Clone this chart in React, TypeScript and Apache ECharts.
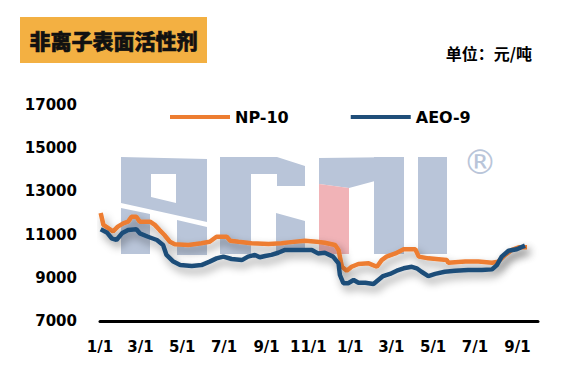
import React, { useEffect, useRef } from "react";
import * as echarts from "echarts";

const tickDates = ["2023-01-01", "2023-03-01", "2023-05-01", "2023-07-01", "2023-09-01", "2023-11-01", "2024-01-01", "2024-03-01", "2024-05-01", "2024-07-01", "2024-09-01"];
const tickLabels = ["1/1", "3/1", "5/1", "7/1", "9/1", "11/1", "1/1", "3/1", "5/1", "7/1", "9/1"];

const seriesNames = ["NP-10", "AEO-9"];

const npDates = ["2023-01-02", "2023-01-06", "2023-01-13", "2023-01-20", "2023-01-27", "2023-02-04", "2023-02-11", "2023-02-16", "2023-02-23", "2023-02-28", "2023-03-15", "2023-03-22", "2023-03-29", "2023-04-05", "2023-04-13", "2023-04-20", "2023-05-10", "2023-05-29", "2023-06-10", "2023-06-20", "2023-07-05", "2023-07-10", "2023-07-22", "2023-08-10", "2023-09-04", "2023-09-23", "2023-10-03", "2023-10-27", "2023-11-13", "2023-11-25", "2023-12-10", "2023-12-15", "2023-12-20", "2023-12-27", "2024-01-03", "2024-01-13", "2024-01-28", "2024-02-09", "2024-02-16", "2024-02-23", "2024-03-07", "2024-03-19", "2024-04-05", "2024-04-10", "2024-04-24", "2024-05-09", "2024-05-21", "2024-05-23", "2024-06-17", "2024-07-06", "2024-07-26", "2024-08-04", "2024-08-14", "2024-08-24", "2024-09-03", "2024-09-15"];
const npValues = [12000, 11450, 11300, 11150, 11370, 11520, 11600, 11830, 11830, 11600, 11600, 11450, 11210, 10980, 10670, 10550, 10520, 10600, 10670, 10900, 10900, 10720, 10670, 10600, 10560, 10600, 10640, 10720, 10670, 10620, 10520, 10290, 9510, 9330, 9510, 9640, 9670, 9510, 9820, 9980, 10130, 10320, 10320, 9980, 9900, 9860, 9820, 9700, 9750, 9750, 9700, 9750, 10060, 10290, 10410, 10410];

const aeoDates = ["2023-01-02", "2023-01-11", "2023-01-18", "2023-01-25", "2023-02-02", "2023-02-11", "2023-02-23", "2023-02-28", "2023-03-12", "2023-03-25", "2023-04-03", "2023-04-08", "2023-04-18", "2023-04-28", "2023-05-15", "2023-05-29", "2023-06-10", "2023-06-20", "2023-06-30", "2023-07-12", "2023-07-27", "2023-08-05", "2023-08-15", "2023-08-22", "2023-08-30", "2023-09-08", "2023-09-18", "2023-09-28", "2023-10-17", "2023-11-06", "2023-11-15", "2023-11-25", "2023-12-07", "2023-12-15", "2023-12-17", "2023-12-22", "2023-12-29", "2024-01-06", "2024-01-13", "2024-01-23", "2024-02-04", "2024-02-11", "2024-02-18", "2024-02-28", "2024-03-09", "2024-03-19", "2024-03-31", "2024-04-07", "2024-04-14", "2024-04-24", "2024-05-04", "2024-05-18", "2024-06-02", "2024-06-21", "2024-07-11", "2024-07-26", "2024-08-02", "2024-08-09", "2024-08-19", "2024-08-31", "2024-09-12"];
const aeoValues = [11250, 11100, 10830, 10750, 11060, 11210, 11250, 11060, 10900, 10750, 10520, 10060, 9750, 9590, 9550, 9590, 9750, 9900, 9980, 9870, 9820, 9980, 10060, 9950, 10010, 10060, 10160, 10290, 10290, 10290, 10130, 10160, 9980, 9670, 9130, 8750, 8750, 8900, 8770, 8770, 8710, 8900, 9080, 9180, 9330, 9440, 9510, 9440, 9280, 9080, 9180, 9280, 9330, 9360, 9360, 9390, 9590, 9980, 10250, 10320, 10490];

const axisStart = "2023-01-01";
const axisEnd = "2024-10-01";

const DAY = 86400000;
// day offset from axis start (UTC based, avoids timezone issues)
const toDay = (s: string) => Math.round((Date.parse(s + "T00:00:00Z") - Date.parse(axisStart + "T00:00:00Z")) / DAY);

const NUM_FONT = "'DejaVu Sans', sans-serif";
const CJK_FONT = "'Noto Sans CJK SC', sans-serif";
const LOGO_BLUE = "#B9C5D9";
const LOGO_PINK = "#F1B3B7";

export default function App() {
  const ref = useRef<HTMLDivElement>(null);
  useEffect(() => {
    if (!ref.current) return;
    const chart = echarts.init(ref.current, null, { renderer: "svg" });
    const tickValues = tickDates.map(toDay);
    const poly = (points: number[][], fill: string) => ({
      type: "polygon",
      z: 0,
      silent: true,
      shape: { points },
      style: { fill },
    });
    const lineShadow = {
      shadowColor: "rgba(0,0,0,0.4)",
      shadowBlur: 8,
      shadowOffsetX: 3,
      shadowOffsetY: 5,
    };
    chart.setOption({
      animation: false,
      backgroundColor: "#fff",
      grid: { left: 100, right: 23, top: 105, bottom: 46 },
      legend: {
        data: seriesNames,
        left: 165,
        top: 104,
        icon: "rect",
        itemWidth: 60,
        itemHeight: 4,
        itemGap: 62,
        textStyle: { fontFamily: NUM_FONT, fontWeight: "bold", fontSize: 16, color: "#000" },
      },
      xAxis: {
        type: "value",
        min: toDay(axisStart),
        max: toDay(axisEnd),
        axisLine: { lineStyle: { color: "#000", width: 3 } },
        axisTick: { show: false },
        splitLine: { show: false },
        axisLabel: {
          customValues: tickValues,
          formatter: (v: number) => {
            const i = tickValues.indexOf(v);
            return i >= 0 ? tickLabels[i] : "";
          },
          hideOverlap: false,
          showMinLabel: true,
          showMaxLabel: true,
          fontFamily: NUM_FONT,
          fontWeight: "bold",
          fontSize: 15,
          color: "#000",
          margin: 18,
        },
      },
      yAxis: {
        type: "value",
        min: 7000,
        max: 17000,
        interval: 2000,
        axisLine: { show: false },
        axisTick: { show: false },
        splitLine: { show: false },
        axisLabel: {
          formatter: (v: number) => String(v),
          fontFamily: NUM_FONT,
          fontWeight: "bold",
          fontSize: 15,
          color: "#000",
          margin: 23,
        },
      },
      series: [
        {
          name: seriesNames[0],
          type: "line",
          showSymbol: false,
          symbol: "none",
          z: 3,
          color: "#ED7D31",
          lineStyle: { color: "#ED7D31", width: 4.5, ...lineShadow },
          data: npDates.map((d, i) => [toDay(d), npValues[i]]),
        },
        {
          name: seriesNames[1],
          type: "line",
          showSymbol: false,
          symbol: "none",
          z: 4,
          color: "#1F4E79",
          lineStyle: { color: "#1F4E79", width: 4.5, ...lineShadow },
          data: aeoDates.map((d, i) => [toDay(d), aeoValues[i]]),
        },
      ],
      graphic: [
        {
          type: "rect",
          z: 10,
          shape: { x: 20, y: 17, width: 187, height: 46 },
          style: { fill: "#F3B042" },
        },
        {
          type: "text",
          z: 11,
          x: 113.5,
          y: 40,
          style: {
            text: "非离子表面活性剂",
            fontFamily: CJK_FONT,
            fontWeight: 900,
            fontSize: 21,
            fill: "#111",
            stroke: "#111",
            lineWidth: 0.6,
            align: "center",
            verticalAlign: "middle",
          },
        },
        {
          type: "text",
          z: 11,
          x: 532,
          y: 53,
          style: {
            text: "单位：元/吨",
            fontFamily: CJK_FONT,
            fontWeight: "bold",
            fontSize: 16,
            fill: "#000",
            align: "right",
            verticalAlign: "middle",
          },
        },
        // watermark logo
        poly([[121, 157], [207, 159], [207, 222], [121, 203]], LOGO_BLUE),
        poly([[151, 174], [176, 174], [176, 203], [151, 197]], "#fff"),
        poly([[121, 208], [150, 214], [150, 254], [121, 254]], LOGO_BLUE),
        poly([[177, 220], [207, 227], [207, 255], [177, 255]], LOGO_BLUE),
        poly([[220, 157], [251, 157], [251, 254], [220, 254]], LOGO_BLUE),
        poly([[220, 157], [277, 157], [305, 166], [305, 186], [277, 186], [277, 174], [220, 174]], LOGO_BLUE),
        poly([[276, 213], [305, 221], [305, 251], [276, 251]], LOGO_BLUE),
        poly([[319, 158], [404, 157], [404, 176], [375, 181], [349, 188], [319, 184]], LOGO_BLUE),
        poly([[319, 184], [349, 188], [349, 254], [319, 254]], LOGO_PINK),
        poly([[374, 157], [404, 157], [404, 254], [374, 254]], LOGO_BLUE),
        poly([[418, 157], [447, 157], [447, 254], [418, 254]], LOGO_BLUE),
        {
          type: "text",
          z: 0,
          x: 480,
          y: 162,
          style: {
            text: "®",
            fontFamily: NUM_FONT,
            fontSize: 34,
            fill: LOGO_BLUE,
            align: "center",
            verticalAlign: "middle",
          },
        },
      ],
    });
    return () => chart.dispose();
  }, []);
  return (
    <div
      ref={ref}
      style={{ position: "fixed", left: 0, top: 0, width: 561, height: 367 }}
    />
  );
}
